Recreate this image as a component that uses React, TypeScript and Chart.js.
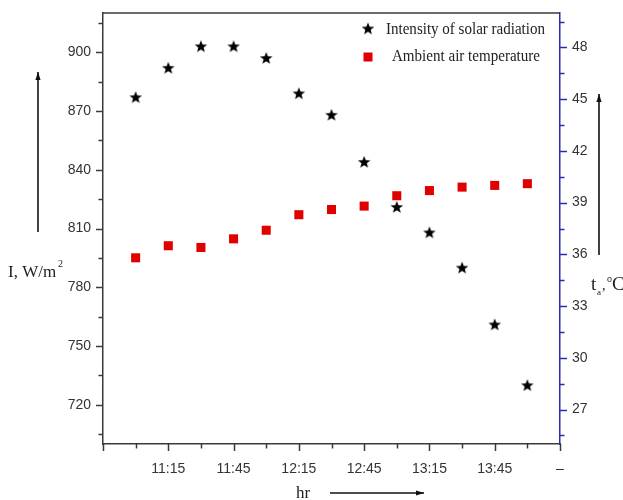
import React, { useEffect, useRef } from "react";
import { Chart, registerables } from "chart.js";

Chart.register(...registerables);

// ---- data ----
const times = ["11:00", "11:15", "11:30", "11:45", "12:00", "12:15", "12:30", "12:45", "13:00", "13:15", "13:30", "13:45", "14:00"];
const intensity = [877, 892, 903, 903, 897, 879, 868, 844, 821, 808, 790, 761, 730];
const ambientTemp = [35.8, 36.5, 36.4, 36.9, 37.4, 38.3, 38.6, 38.8, 39.4, 39.7, 39.9, 40.0, 40.1];
const seriesNames = ["Intensity of solar radiation", "Ambient air temperature"];

const xTickTimes = ["11:15", "11:45", "12:15", "12:45", "13:15", "13:45", "14:15"];
const xTickLabels = ["11:15", "11:45", "12:15", "12:45", "13:15", "13:45", "–"];
const leftTicks = [720, 750, 780, 810, 840, 870, 900];
const rightTicks = [27, 30, 33, 36, 39, 42, 45, 48];

const xRange = ["10:45", "14:15"];
const leftRange = [700, 920];
const rightRange = [25, 50];

const toMin = (s: string) => {
  const [h, m] = s.split(":").map(Number);
  return h * 60 + m;
};
const xTickValues = xTickTimes.map(toMin);

const AXIS = "#3a3a3a";
const BLUE = "#2b2bb0";
const TEXT = "#333333";

function makeStar(): HTMLCanvasElement {
  const c = document.createElement("canvas");
  c.width = 14;
  c.height = 14;
  const g = c.getContext("2d")!;
  g.fillStyle = "#000";
  g.beginPath();
  for (let i = 0; i < 10; i++) {
    const r = i % 2 === 0 ? 6.6 : 2.8;
    const a = -Math.PI / 2 + (i * Math.PI) / 5;
    const px = 7 + r * Math.cos(a);
    const py = 7.5 + r * Math.sin(a);
    if (i === 0) g.moveTo(px, py);
    else g.lineTo(px, py);
  }
  g.closePath();
  g.fill();
  return c;
}

function arrow(ctx: CanvasRenderingContext2D, x1: number, y1: number, x2: number, y2: number) {
  ctx.save();
  ctx.strokeStyle = "#111";
  ctx.fillStyle = "#111";
  ctx.lineWidth = 1.6;
  ctx.beginPath();
  ctx.moveTo(x1, y1);
  ctx.lineTo(x2, y2);
  ctx.stroke();
  const ang = Math.atan2(y2 - y1, x2 - x1);
  const L = 8;
  const W = 2.6;
  ctx.beginPath();
  ctx.moveTo(x2, y2);
  ctx.lineTo(x2 - L * Math.cos(ang) - W * Math.sin(ang), y2 - L * Math.sin(ang) + W * Math.cos(ang));
  ctx.lineTo(x2 - L * Math.cos(ang) + W * Math.sin(ang), y2 - L * Math.sin(ang) - W * Math.cos(ang));
  ctx.closePath();
  ctx.fill();
  ctx.restore();
}

const noPad = (s: any) => {
  s.paddingTop = 0;
  s.paddingBottom = 0;
  s.paddingLeft = 0;
  s.paddingRight = 0;
};

export default function App() {
  const ref = useRef<HTMLCanvasElement | null>(null);

  useEffect(() => {
    if (!ref.current) return;
    const star = makeStar();

    const decor = {
      id: "decor",
      afterDraw(chart: any) {
        const ctx: CanvasRenderingContext2D = chart.ctx;
        const { left, right, top, bottom } = chart.chartArea;
        const sx = chart.scales.x;
        const sy = chart.scales.y;
        const sy1 = chart.scales.y1;
        ctx.save();
        // top frame
        ctx.strokeStyle = AXIS;
        ctx.lineWidth = 1.5;
        ctx.beginPath();
        ctx.moveTo(left, top);
        ctx.lineTo(right, top);
        ctx.stroke();

        // x ticks
        const x0 = toMin(xRange[0]);
        const x1 = toMin(xRange[1]);
        for (let v = x0; v <= x1; v += 15) {
          const major = (v - x0) % 30 === 0;
          const px = Math.round(sx.getPixelForValue(v)) + 0.5;
          ctx.beginPath();
          ctx.moveTo(px, bottom);
          ctx.lineTo(px, bottom + (major ? 7 : 4.5));
          ctx.stroke();
        }
        // left ticks
        for (let v = leftRange[0] + 5; v <= leftRange[1]; v += 15) {
          const major = leftTicks.includes(v);
          const py = Math.round(sy.getPixelForValue(v)) + 0.5;
          ctx.beginPath();
          ctx.moveTo(left, py);
          ctx.lineTo(left - (major ? 7 : 4.5), py);
          ctx.stroke();
        }
        // right ticks
        ctx.strokeStyle = BLUE;
        for (let v = rightRange[0] + 0.5; v <= rightRange[1]; v += 1.5) {
          const major = rightTicks.some((t) => Math.abs(t - v) < 1e-6);
          const py = Math.round(sy1.getPixelForValue(v)) + 0.5;
          ctx.beginPath();
          ctx.moveTo(right, py);
          ctx.lineTo(right + (major ? 7 : 4.5), py);
          ctx.stroke();
        }

        // legend
        ctx.drawImage(star, 368 - 7, 29 - 7.5);
        ctx.fillStyle = "#e00000";
        ctx.fillRect(368 - 4.5, 57 - 4.5, 9, 9);
        ctx.fillStyle = "#222";
        ctx.font = '17px "Liberation Serif"';
        ctx.textBaseline = "middle";
        ctx.textAlign = "left";
        ctx.fillText(seriesNames[0], 386, 29.5, 159);
        ctx.fillText(seriesNames[1], 392, 57, 148);

        // left title
        ctx.textBaseline = "alphabetic";
        ctx.font = '17px "Liberation Serif"';
        ctx.fillText("I, W/m", 8, 277);
        ctx.font = '10px "Liberation Serif"';
        ctx.fillText("2", 58, 267);
        // right title
        ctx.font = '19px "Liberation Serif"';
        ctx.fillText("t", 591, 290);
        ctx.font = '9px "Liberation Serif"';
        ctx.fillText("a", 597, 295);
        ctx.font = '14px "Liberation Serif"';
        ctx.fillText(",", 602, 290);
        ctx.font = '10px "Liberation Serif"';
        ctx.fillText("o", 607, 282);
        ctx.font = '19px "Liberation Serif"';
        ctx.fillText("C", 612, 290);
        // bottom title
        ctx.font = '17px "Liberation Serif"';
        ctx.fillText("hr", 296, 498);

        // arrows
        arrow(ctx, 38, 232, 38, 72);
        arrow(ctx, 599, 255, 599, 94);
        arrow(ctx, 330, 493, 424, 493);
        ctx.restore();
      },
    };

    const chart = new Chart(ref.current, {
      type: "scatter",
      data: {
        datasets: [
          {
            label: seriesNames[0],
            data: times.map((t, i) => ({ x: toMin(t), y: intensity[i] })),
            yAxisID: "y",
            pointStyle: star as any,
            pointRadius: 7,
            backgroundColor: "#000",
            borderColor: "#000",
          },
          {
            label: seriesNames[1],
            data: times.map((t, i) => ({ x: toMin(t), y: ambientTemp[i] })),
            yAxisID: "y1",
            pointStyle: "rect",
            pointRadius: 6.4,
            borderWidth: 0,
            backgroundColor: "#e00000",
            borderColor: "#e00000",
          },
        ],
      },
      options: {
        responsive: false,
        animation: false,
        events: [],
        layout: { padding: { top: 13, left: 0, right: 0, bottom: 0 } },
        plugins: { legend: { display: false }, tooltip: { enabled: false }, title: { display: false } },
        scales: {
          x: {
            type: "linear",
            position: "bottom",
            min: toMin(xRange[0]),
            max: toMin(xRange[1]),
            afterBuildTicks: (s: any) => {
              s.ticks = xTickValues.map((v) => ({ value: v }));
            },
            afterFit: (s: any) => {
              s.height = 56;
              noPad(s);
            },
            grid: { display: false, drawTicks: false },
            border: { display: true, color: AXIS, width: 1.5 },
            ticks: {
              padding: 17,
              color: TEXT,
              font: { family: "Liberation Sans", size: 14 },
              maxRotation: 0,
              autoSkip: false,
              callback: (v: any) => {
                const i = xTickValues.indexOf(Number(v));
                return i >= 0 ? xTickLabels[i] : "";
              },
            },
          },
          y: {
            type: "linear",
            position: "left",
            min: leftRange[0],
            max: leftRange[1],
            afterBuildTicks: (s: any) => {
              s.ticks = leftTicks.map((v) => ({ value: v }));
            },
            afterFit: (s: any) => {
              s.width = 103;
              noPad(s);
            },
            grid: { display: false, drawTicks: false },
            border: { display: true, color: AXIS, width: 1.5 },
            ticks: {
              padding: 12,
              color: TEXT,
              font: { family: "Liberation Sans", size: 14 },
              autoSkip: false,
              callback: (v: any) => String(v),
            },
          },
          y1: {
            type: "linear",
            position: "right",
            min: rightRange[0],
            max: rightRange[1],
            afterBuildTicks: (s: any) => {
              s.ticks = rightTicks.map((v) => ({ value: v }));
            },
            afterFit: (s: any) => {
              s.width = 63;
              noPad(s);
            },
            grid: { display: false, drawTicks: false },
            border: { display: true, color: BLUE, width: 1.5 },
            ticks: {
              padding: 12,
              color: TEXT,
              font: { family: "Liberation Sans", size: 14 },
              autoSkip: false,
              callback: (v: any) => String(v),
            },
          },
        },
      },
      plugins: [decor],
    });
    return () => chart.destroy();
  }, []);

  return (
    <div style={{ position: "fixed", left: 0, top: 0, width: 623, height: 500, background: "#fff" }}>
      <canvas ref={ref} width={623} height={500} style={{ width: 623, height: 500, display: "block" }} />
    </div>
  );
}
